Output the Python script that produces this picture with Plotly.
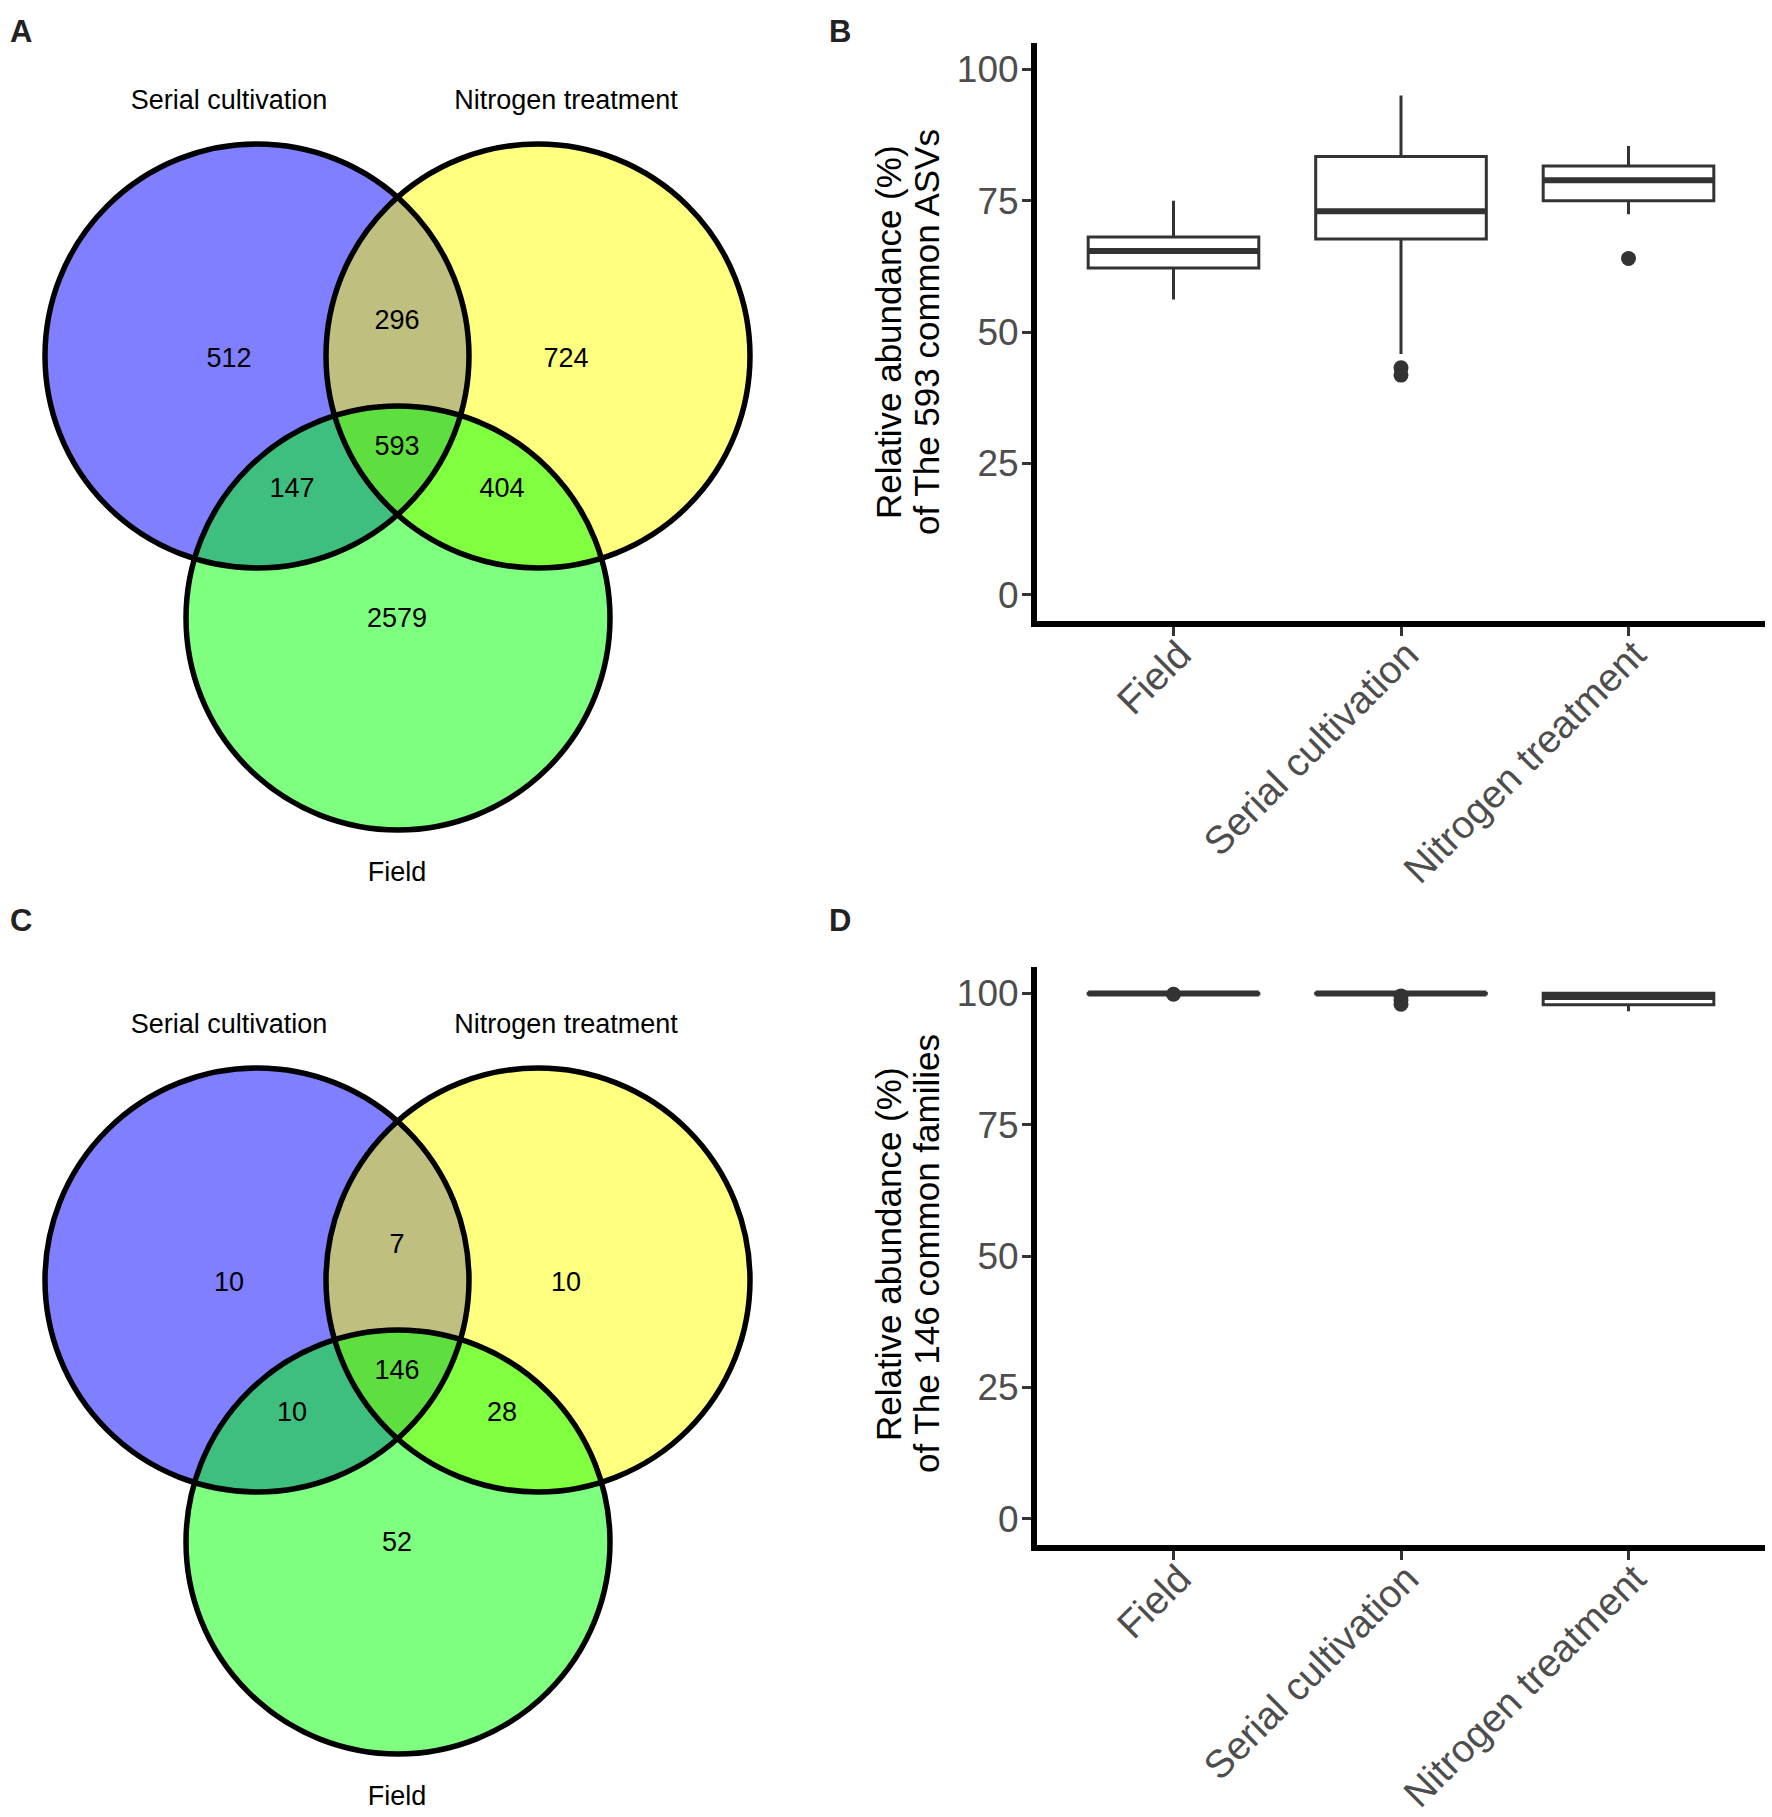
import plotly.graph_objects as go

# ---------------- data ----------------
categories = ["Field", "Serial cultivation", "Nitrogen treatment"]

# Panel B: relative abundance of the 593 common ASVs (box statistics)
asv_lower = [56.2, 45.8, 72.4]
asv_q1 = [62.2, 67.7, 75.0]
asv_median = [65.4, 73.0, 78.9]
asv_q3 = [68.1, 83.4, 81.6]
asv_upper = [75.0, 95.0, 85.4]
asv_outlier_group = [1, 1, 2]
asv_outlier_value = [43.2, 41.8, 64.0]

# Panel D: relative abundance of the 146 common families (box statistics)
fam_lower = [99.7, 99.8, 96.6]
fam_q1 = [99.85, 99.9, 97.8]
fam_median = [99.95, 99.95, 99.3]
fam_q3 = [100.0, 100.0, 100.0]
fam_upper = [100.0, 100.0, 100.0]
fam_outlier_group = [0, 1, 1, 1]
fam_outlier_value = [99.8, 99.5, 98.7, 97.9]

# Venn diagrams (A: ASVs, C: families)
venn_sets = ["Serial cultivation", "Nitrogen treatment", "Field"]
venn_regions = ["S", "S&N", "N", "S&N&F", "S&F", "N&F", "F"]
asv_counts = [512, 296, 724, 593, 147, 404, 2579]
family_counts = [10, 7, 10, 146, 10, 28, 52]

y_ticks = [0, 25, 50, 75, 100]

# ---------------- layout constants ----------------
W, H = 1772, 1817
FONT = "Liberation Sans, Arial, Helvetica, sans-serif"
BOX_W = 0.75
DARK = "#333333"
TICK_GREY = "#4D4D4D"

# Venn geometry (canvas pixels, relative to panel origin)
VENN_R = 212
circle_centers = {"Serial cultivation": (257, 356),
                  "Nitrogen treatment": (538, 356),
                  "Field": (398, 618)}
circle_fills = {"Serial cultivation": "rgba(0,0,255,0.5)",
                "Nitrogen treatment": "rgba(255,255,0,0.5)",
                "Field": "rgba(0,255,0,0.5)"}
set_label_pos = {"Serial cultivation": (229, 102),
                 "Nitrogen treatment": (566, 102),
                 "Field": (397, 874)}
region_label_pos = {"S": (229, 360), "S&N": (397, 322), "N": (566, 360),
                    "S&N&F": (397, 448), "S&F": (292, 490), "N&F": (502, 490),
                    "F": (397, 620)}
panel_offsets = {"A": 0, "C": 924}

fig = go.Figure()
shapes = []

# ---------- Venn panels ----------
for panel, counts in (("A", asv_counts), ("C", family_counts)):
    oy = panel_offsets[panel]
    for s in venn_sets:
        cx, cy = circle_centers[s]
        shapes.append(dict(type="circle", xref="x3", yref="y3", layer="below",
                           x0=cx - VENN_R, x1=cx + VENN_R,
                           y0=cy + oy - VENN_R, y1=cy + oy + VENN_R,
                           fillcolor=circle_fills[s], line=dict(width=0)))
    for s in venn_sets:
        cx, cy = circle_centers[s]
        shapes.append(dict(type="circle", xref="x3", yref="y3", layer="below",
                           x0=cx - VENN_R, x1=cx + VENN_R,
                           y0=cy + oy - VENN_R, y1=cy + oy + VENN_R,
                           fillcolor="rgba(0,0,0,0)",
                           line=dict(color="black", width=5.5)))
    fig.add_trace(go.Scatter(
        x=[region_label_pos[r][0] for r in venn_regions],
        y=[region_label_pos[r][1] + oy for r in venn_regions],
        text=[str(c) for c in counts], mode="text",
        textfont=dict(family=FONT, size=27, color="black"),
        xaxis="x3", yaxis="y3", showlegend=False, hoverinfo="skip"))
    fig.add_trace(go.Scatter(
        x=[set_label_pos[s][0] for s in venn_sets],
        y=[set_label_pos[s][1] + oy for s in venn_sets],
        text=venn_sets, mode="text",
        textfont=dict(family=FONT, size=27, color="black"),
        xaxis="x3", yaxis="y3", showlegend=False, hoverinfo="skip"))

# ---------- Box panels ----------
positions = list(range(len(categories)))


def add_box_panel(xa, ya, lower, q1, med, q3, upper, og, ov):
    fig.add_trace(go.Box(
        x=positions, q1=q1, median=med, q3=q3,
        lowerfence=lower, upperfence=upper,
        width=BOX_W, whiskerwidth=0, boxpoints=False,
        fillcolor="white", line=dict(color=DARK, width=3),
        xaxis=xa, yaxis=ya, showlegend=False, hoverinfo="skip"))
    mx, my = [], []
    for p, m in zip(positions, med):
        mx += [p - BOX_W / 2, p + BOX_W / 2, None]
        my += [m, m, None]
    fig.add_trace(go.Scatter(x=mx, y=my, mode="lines",
                             line=dict(color=DARK, width=6),
                             xaxis=xa, yaxis=ya, showlegend=False,
                             hoverinfo="skip"))
    fig.add_trace(go.Scatter(x=og, y=ov, mode="markers",
                             marker=dict(color=DARK, size=15),
                             xaxis=xa, yaxis=ya, showlegend=False,
                             hoverinfo="skip"))


add_box_panel("x", "y", asv_lower, asv_q1, asv_median, asv_q3, asv_upper,
              asv_outlier_group, asv_outlier_value)
add_box_panel("x2", "y2", fam_lower, fam_q1, fam_median, fam_q3, fam_upper,
              fam_outlier_group, fam_outlier_value)

xdom = [1037 / W, 1765 / W]
b_dom = [1 - 621 / H, 1 - 43 / H]
d_dom = [1 - 1545 / H, 1 - 967 / H]

xcommon = dict(range=[-0.6, 2.6], tickmode="array", tickvals=positions,
               ticktext=categories, tickangle=-45,
               tickfont=dict(family=FONT, size=39, color=TICK_GREY),
               ticks="outside", ticklen=9, tickwidth=2.5, tickcolor=DARK,
               ticklabelstandoff=-20, ticklabelshift=6,
               showline=True, linewidth=6, linecolor="black",
               showgrid=False, zeroline=False, fixedrange=True)
ycommon = dict(range=[-5, 105], tickmode="array", tickvals=y_ticks,
               ticktext=[str(v) for v in y_ticks],
               tickfont=dict(family=FONT, size=37, color=TICK_GREY),
               ticks="outside", ticklen=9, tickwidth=2.5, tickcolor=DARK,
               ticklabelstandoff=-4,
               showline=True, linewidth=6, linecolor="black",
               showgrid=False, zeroline=False, fixedrange=True)

annotations = []
# y-axis titles (two lines each)
titles = {"B": ("Relative abundance (%)", "of The 593 common ASVs", 332),
          "D": ("Relative abundance (%)", "of The 146 common families", 1254)}
for key, (l1, l2, yc) in titles.items():
    for txt, xc in ((l1, 888), (l2, 926)):
        annotations.append(dict(text=txt, x=xc, y=yc, xref="x3", yref="y3",
                                textangle=-90, showarrow=False,
                                xanchor="center", yanchor="middle",
                                font=dict(family=FONT, size=35, color="black")))
# panel letters
panel_letters = {"A": (21, 31), "B": (840, 31), "C": (21, 920), "D": (840, 920)}
for lab, (px, py) in panel_letters.items():
    annotations.append(dict(text="<b>%s</b>" % lab, x=px, y=py, xref="x3",
                            yref="y3", showarrow=False, xanchor="center",
                            yanchor="middle",
                            font=dict(family=FONT, size=31, color="#222222")))

fig.update_layout(
    width=W, height=H, margin=dict(l=0, r=0, t=0, b=0),
    paper_bgcolor="white", plot_bgcolor="rgba(0,0,0,0)",
    showlegend=False,
    xaxis=dict(domain=xdom, anchor="y", **xcommon),
    yaxis=dict(domain=b_dom, anchor="x", **ycommon),
    xaxis2=dict(domain=xdom, anchor="y2", **xcommon),
    yaxis2=dict(domain=d_dom, anchor="x2", **ycommon),
    xaxis3=dict(domain=[0, 1], range=[0, W], visible=False, anchor="y3",
                fixedrange=True),
    yaxis3=dict(domain=[0, 1], range=[H, 0], visible=False, anchor="x3",
                fixedrange=True),
    shapes=shapes, annotations=annotations,
)

fig.write_html("out.html", config={"displayModeBar": False},
               post_script="document.body.style.margin='0px';")
